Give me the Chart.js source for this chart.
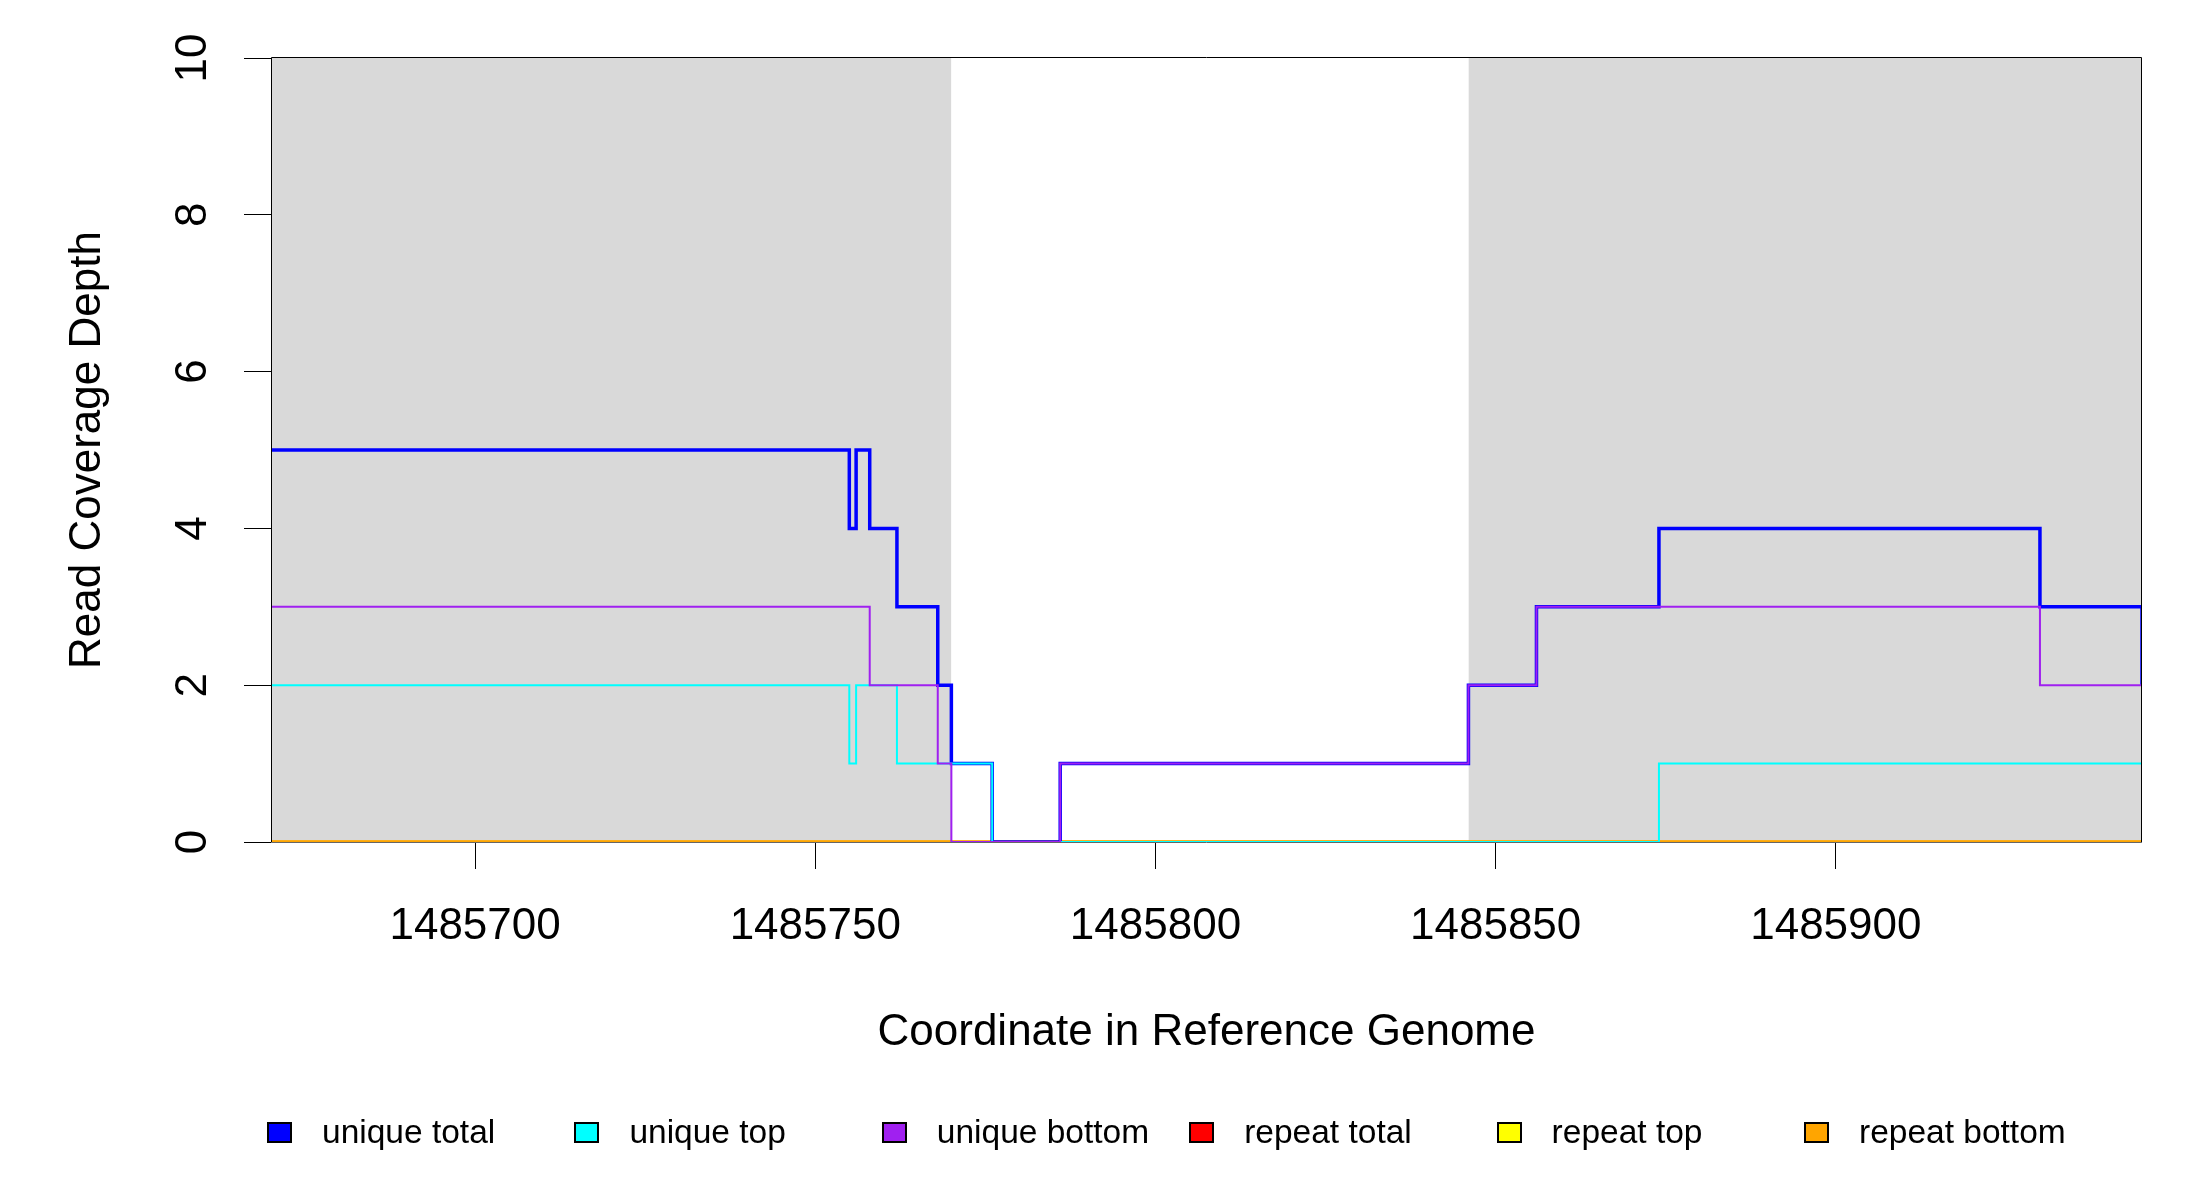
<!DOCTYPE html>
<html>
<head>
<meta charset="utf-8">
<title>Read Coverage Depth</title>
<script src="https://cdn.jsdelivr.net/npm/chart.js@4.4.1/dist/chart.umd.min.js"></script>
<style>
  html, body { margin: 0; padding: 0; background: #fff; }
  #lienzo { position: relative; width: 2200px; height: 1200px;
            font-family: 'Liberation Sans', Arial, Helvetica, sans-serif; }
  #grafica { position: absolute; left: 0; top: 0; }
  .leg { position: absolute; top: 1113px; height: 38px; display: flex; align-items: center;
         font-size: 33.5px; color: #000; white-space: nowrap; }
  .leg i { display: inline-block; width: 25px; height: 21px; box-sizing: border-box;
           border: 2px solid #000; margin-right: 30px; }
</style>
</head>
<body>
<div id="lienzo">
  <canvas id="grafica" width="2200" height="1200"></canvas>
  <div id="leyenda"></div>
</div>
<script>
'use strict';

/* ── Ejes ── */
const X_MIN   = 1485670;
const X_MAX   = 1485945;
const Y_MIN   = 0;
const Y_MAX   = 10;
const X_TICKS = [1485700, 1485750, 1485800, 1485850, 1485900];
const Y_TICKS = [0, 2, 4, 6, 8, 10];

/* ── Regiones sombreadas (inicio / fin) ── */
const SHADE_FROM = [1485670, 1485846];
const SHADE_TO   = [1485770, 1485945];

/* ── Series: coordenada donde empieza cada escalón y su profundidad ── */
const UNIQUE_TOTAL_X  = [1485670, 1485755, 1485756, 1485758, 1485762, 1485768, 1485770,
                         1485776, 1485786, 1485846, 1485856, 1485874, 1485930, 1485945];
const UNIQUE_TOTAL_Y  = [5, 4, 5, 4, 3, 2, 1, 0, 1, 2, 3, 4, 3, 2];

const UNIQUE_TOP_X    = [1485670, 1485755, 1485756, 1485762, 1485776, 1485874, 1485945];
const UNIQUE_TOP_Y    = [2, 1, 2, 1, 0, 1, 1];

const UNIQUE_BOTTOM_X = [1485670, 1485758, 1485768, 1485770, 1485786, 1485846, 1485856,
                         1485930, 1485945];
const UNIQUE_BOTTOM_Y = [3, 2, 1, 0, 1, 2, 3, 2, 1];

const REPEAT_TOTAL_X  = [1485670, 1485945];
const REPEAT_TOTAL_Y  = [0, 0];
const REPEAT_TOP_X    = [1485670, 1485945];
const REPEAT_TOP_Y    = [0, 0];
const REPEAT_BOTTOM_X = [1485670, 1485945];
const REPEAT_BOTTOM_Y = [0, 0];

const SERIES_NAMES  = ['unique total', 'unique top', 'unique bottom',
                       'repeat total', 'repeat top', 'repeat bottom'];
const SERIES_X      = [UNIQUE_TOTAL_X, UNIQUE_TOP_X, UNIQUE_BOTTOM_X,
                       REPEAT_TOTAL_X, REPEAT_TOP_X, REPEAT_BOTTOM_X];
const SERIES_Y      = [UNIQUE_TOTAL_Y, UNIQUE_TOP_Y, UNIQUE_BOTTOM_Y,
                       REPEAT_TOTAL_Y, REPEAT_TOP_Y, REPEAT_BOTTOM_Y];
const SERIES_COLORS = ['#0000ff', '#00ffff', '#a020f0', '#ff0000', '#ffff00', '#ffa500'];
const SERIES_WIDTHS = [3.5, 2, 2, 3, 3, 3];
/* orden de dibujo: menor = encima */
const SERIES_ORDER  = [2, 1, 0, 5, 4, 3];

const FONT = "'Liberation Sans', Arial, Helvetica, sans-serif";

/* ── Utilidades ── */
function puntos(xs, ys) {
  return xs.map((x, i) => ({ x: x, y: ys[i] }));
}

function puntosSombra() {
  const pts = [];
  SHADE_FROM.forEach((x0, i) => {
    if (i > 0) pts.push({ x: x0, y: null });
    pts.push({ x: x0, y: Y_MAX });
    pts.push({ x: SHADE_TO[i], y: Y_MAX });
  });
  return pts;
}

/* Marco alrededor del área de trazado (el borde inferior queda bajo la línea cero) */
const marco = {
  id: 'marco',
  afterDatasetsDraw(chart) {
    const { ctx, chartArea: a } = chart;
    ctx.save();
    ctx.lineWidth = 1;
    const l = Math.round(a.left) + 0.5, t = Math.round(a.top) - 0.5;
    const r = Math.round(a.right) - 0.5, b = Math.round(a.bottom) + 0.5;
    ctx.strokeStyle = '#000';
    ctx.beginPath();
    ctx.moveTo(l, b); ctx.lineTo(l, t); ctx.lineTo(r, t); ctx.lineTo(r, b);
    ctx.stroke();
    ctx.strokeStyle = '#666';
    ctx.beginPath();
    ctx.moveTo(l, b); ctx.lineTo(r, b);
    ctx.stroke();
    ctx.restore();
  }
};

/* ── Gráfica ── */
const datasets = SERIES_NAMES.map((name, i) => ({
  label: name,
  data: puntos(SERIES_X[i], SERIES_Y[i]),
  borderColor: SERIES_COLORS[i],
  backgroundColor: SERIES_COLORS[i],
  borderWidth: SERIES_WIDTHS[i],
  stepped: true,
  pointRadius: 0,
  fill: false,
  clip: 0,
  order: SERIES_ORDER[i],
}));

datasets.push({
  label: 'sombra',
  data: puntosSombra(),
  borderWidth: 0,
  borderColor: 'rgba(0,0,0,0)',
  backgroundColor: '#d9d9d9',
  pointRadius: 0,
  fill: 'origin',
  spanGaps: false,
  clip: 0,
  order: 10,
});

new Chart(document.getElementById('grafica').getContext('2d'), {
  type: 'line',
  data: { datasets },
  plugins: [marco],
  options: {
    responsive: false,
    animation: false,
    devicePixelRatio: 1,
    events: [],
    layout: { padding: { left: 0, right: 58, top: 58, bottom: 0 } },
    plugins: {
      legend:  { display: false },
      tooltip: { enabled: false },
    },
    scales: {
      x: {
        type: 'linear',
        min: X_MIN,
        max: X_MAX,
        afterBuildTicks: s => { s.ticks = X_TICKS.map(v => ({ value: v })); },
        afterFit: s => { s.height = 358; },
        ticks: {
          autoSkip: false, maxRotation: 0, minRotation: 0,
          color: '#000', padding: 31,
          font: { family: FONT, size: 44 },
          callback: v => String(v),
        },
        grid:   { drawOnChartArea: false, drawTicks: true, tickLength: 27, color: '#000', lineWidth: 1 },
        border: { display: false },
        title: {
          display: true, text: 'Coordinate in Reference Genome', color: '#000',
          font: { family: FONT, size: 44 },
          padding: { top: 0, bottom: 141 },
        },
      },
      y: {
        type: 'linear',
        min: Y_MIN,
        max: Y_MAX,
        afterBuildTicks: s => { s.ticks = Y_TICKS.map(v => ({ value: v })); },
        afterFit: s => { s.width = 271; },
        ticks: {
          minRotation: 90, maxRotation: 90, crossAlign: 'center',
          color: '#000', padding: 26,
          font: { family: FONT, size: 44 },
          callback: v => String(v),
        },
        grid:   { drawOnChartArea: false, drawTicks: true, tickLength: 27, color: '#000', lineWidth: 1 },
        border: { display: false },
        title: {
          display: true, text: 'Read Coverage Depth', color: '#000',
          font: { family: FONT, size: 44 },
          padding: { top: 61, bottom: 0 },
        },
      },
    },
  },
});

/* ── Leyenda ── */
const leyenda = document.getElementById('leyenda');
SERIES_NAMES.forEach((name, i) => {
  const div = document.createElement('div');
  div.className = 'leg';
  div.style.left = (267 + i * 307.4) + 'px';
  div.innerHTML = `<i style="background:${SERIES_COLORS[i]}"></i><span>${name}</span>`;
  leyenda.appendChild(div);
});
</script>
</body>
</html>
